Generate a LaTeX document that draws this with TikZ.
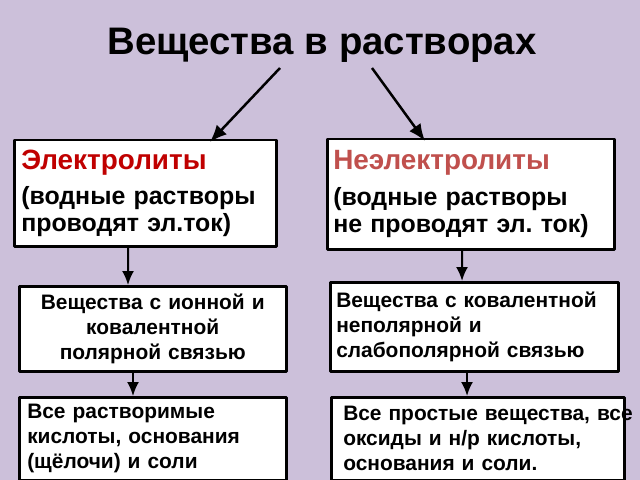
\documentclass[tikz,border=0pt]{standalone}
\usepackage{fontspec}
\setmainfont{Liberation Sans}
\usetikzlibrary{arrows.meta}
\frenchspacing

\definecolor{bgcol}{RGB}{204,192,218}
\definecolor{elcol}{RGB}{192,0,0}
\definecolor{nelcol}{RGB}{192,80,77}
\newcommand{\headfont}{\fontsize{28}{30}\selectfont}

\begin{document}
\begin{tikzpicture}[x=1bp,y=-1bp,>={Latex[length=17bp,width=14bp]},line join=bevel,
    box/.style={draw=black,fill=white,line width=2.5bp,anchor=north west,inner ysep=0pt},
    bigtext/.style={font=\fontsize{25}{27}\selectfont\bfseries},
    smalltext/.style={font=\fontsize{21}{25}\selectfont\bfseries},
    arr/.style={->,line width=2.5bp},
    varr/.style={->,line width=2bp,>={Latex[length=14bp,width=12bp]}}]
  \fill [bgcol] (0,0) rectangle (640,480);
  \useasboundingbox (0,0) rectangle (640,480);
  %%
  % Node: title
  \node (title) at (322,45) {\fontsize{38.5}{40}\selectfont\bfseries Вещества в растворах};
  \coordinate (lsrc) at (280,68);
  \coordinate (rsrc) at (372,68);
  % Node: elec
  \node [box,bigtext,text width=248bp,inner xsep=7bp,minimum height=106bp,align=left] (elec) at (13,139)
    {{\headfont\color{elcol}Электролиты}\\[8bp](водные растворы\\проводят эл.ток)};
  % Node: nonelec
  \node [box,bigtext,text width=275bp,inner xsep=6bp,minimum height=110bp,align=left] (nonelec) at (326,138)
    {{\headfont\color{nelcol}Неэлектролиты}\\[9bp](водные растворы\\не проводят эл. ток)};
  % Node: ionic
  \node [box,smalltext,text width=255bp,inner xsep=6bp,minimum height=85bp,align=center] (ionic) at (18,285)
    {Вещества с ионной и\\ковалентной\\полярной связью};
  % Node: covalent
  \node [box,smalltext,text width=276bp,inner xsep=6bp,minimum height=89bp,align=left] (covalent) at (329,281)
    {Вещества с ковалентной\\неполярной и\\слабополярной связью};
  % Node: soluble
  \node [box,smalltext,text width=251bp,inner xsep=8bp,minimum height=83bp,align=left] (soluble) at (18,396)
    {Все растворимые\\кислоты, основания\\(щёлочи) и соли};
  % Node: simple
  \node [box,smalltext,text width=269bp,inner xsep=12bp,minimum height=83bp,align=left] (simple) at (330,396)
    {\mbox{Все простые вещества, все}\\оксиды и н/р кислоты,\\основания и соли.};
  %%
  % Edge: title -> elec
  \draw [arr] (lsrc) -- ([xshift=197bp,yshift=-3bp]elec.north west);
  % Edge: title -> nonelec
  \draw [arr] (rsrc) -- ([xshift=99bp,yshift=-3bp]nonelec.north west);
  % Edge: elec -> ionic
  \draw [varr] ([xshift=115bp]elec.south west) -- ([xshift=110bp]ionic.north west);
  % Edge: ionic -> soluble
  \draw [varr] ([xshift=115bp]ionic.south west) -- ([xshift=115bp]soluble.north west);
  % Edge: nonelec -> covalent
  \draw [varr] ([xshift=136bp]nonelec.south west) -- ([xshift=133bp]covalent.north west);
  % Edge: covalent -> simple
  \draw [varr] ([xshift=138bp]covalent.south west) -- ([xshift=137bp]simple.north west);
  %
\end{tikzpicture}
\end{document}
